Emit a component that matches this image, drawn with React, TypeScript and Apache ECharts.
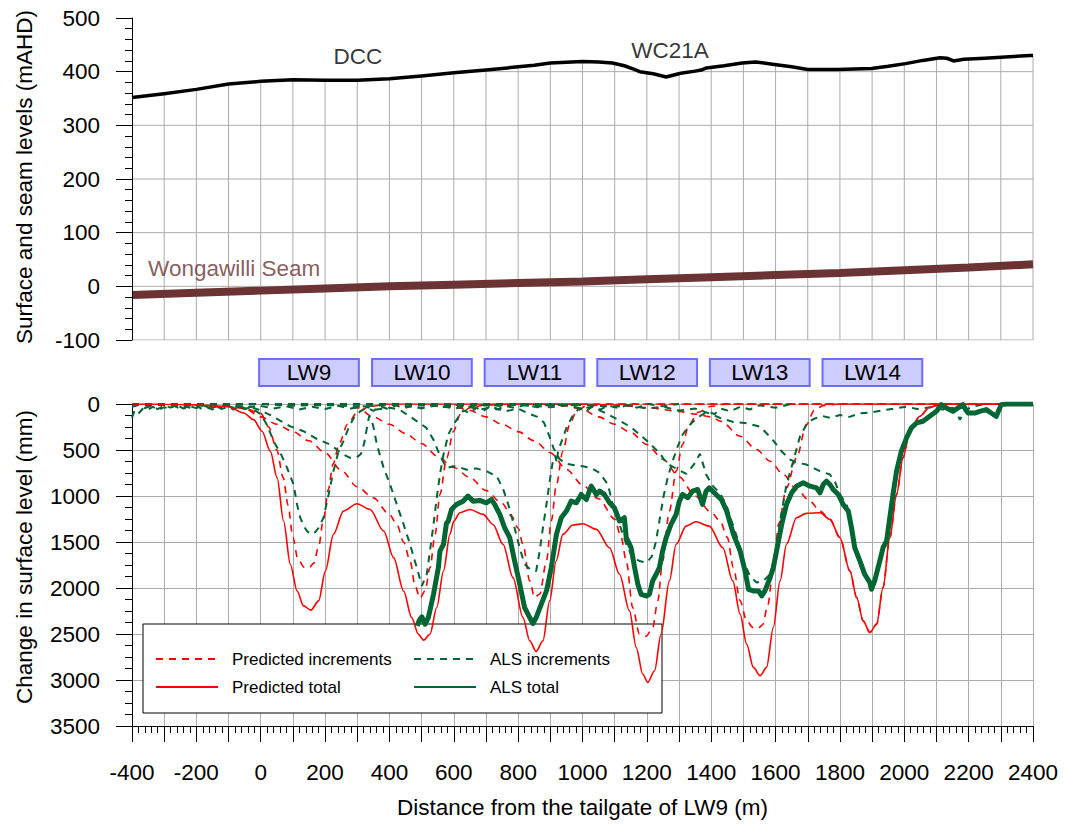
import React, { useEffect, useRef } from 'react';
import * as echarts from 'echarts';

const FONT = '"Liberation Sans", Arial, Helvetica, sans-serif';
const FS = 22.5;
const GRID_COLOR = '#ababab';
const RED = '#ff0000';
const GREEN = '#006633';
const BROWN = '#6b3333';

const X_MIN = -400;
const X_MAX = 2400;
const TOP_MIN = -100;
const TOP_MAX = 500;

// ---- Top panel: surface and seam levels (mAHD)
const surfaceLevel = [
  [-400, 352], [-300, 359], [-200, 367], [-100, 377], [0, 382], [100, 385], [200, 384], [300, 384],
  [400, 387], [500, 392], [600, 398], [700, 403], [800, 409], [850, 412], [900, 416], [1000, 419],
  [1050, 418], [1093, 416], [1130, 411], [1157, 405], [1178, 400], [1220, 396], [1260, 390],
  [1305, 397], [1350, 401], [1369, 403], [1385, 407], [1440, 411], [1496, 416], [1538, 418],
  [1602, 413], [1650, 409], [1700, 404], [1792, 404], [1898, 406], [1950, 410], [2004, 415],
  [2058, 421], [2111, 426], [2132, 425], [2153, 420], [2185, 423], [2250, 425], [2301, 427],
  [2391, 430], [2400, 430],
];
const seamLevel = [
  [-400, -16], [-200, -12], [0, -8], [200, -4], [400, 0], [600, 3], [800, 6], [1000, 9],
  [1200, 13], [1400, 17], [1600, 21], [1800, 25], [2000, 30], [2200, 35], [2400, 41],
];
const surfaceLabels = [[302, 429, 'DCC'], [1272, 440, 'WC21A']];
const seamLabels = [[-350, 34, 'Wongawilli Seam']];

// ---- Longwall panels
const panelNames = ['LW9', 'LW10', 'LW11', 'LW12', 'LW13', 'LW14'];
const panelExtents = [[-5, 305], [346, 656], [696, 1006], [1046, 1356], [1396, 1706], [1746, 2056]];

// ---- Bottom panel: change in surface level (mm)
const predInc9 = [
  [-400, 0], [-300, 0], [-200, 5], [-100, 20], [-50, 50], [0, 100], [25, 250], [50, 500], [70, 800],
  [85, 1100], [100, 1450], [115, 1680], [135, 1775], [150, 1780], [165, 1730], [180, 1550], [195, 1250],
  [210, 930], [225, 650], [245, 420], [270, 220], [300, 90], [340, 25], [400, 0], [2400, 0],
];
const predInc10 = [
  [-400, 0], [-200, 0], [-100, 20], [-50, 50], [0, 140], [50, 220], [100, 300], [150, 400], [200, 530],
  [250, 720], [300, 900], [350, 1020], [400, 1200], [423, 1309], [444, 1500], [464, 1700], [480, 1980],
  [495, 2111], [511, 2030], [526, 1780], [542, 1417], [557, 983], [578, 586], [599, 296], [620, 116],
  [650, 40], [700, 10], [800, 0], [2400, 0],
];
const predInc11 = [
  [-400, 0], [200, 0], [250, 10], [300, 40], [350, 140], [400, 220], [450, 320], [500, 430], [550, 570],
  [600, 690], [650, 800], [700, 940], [750, 1080], [780, 1220], [800, 1350], [815, 1525], [836, 1923],
  [851, 2104], [867, 2068], [888, 1706], [903, 1272], [919, 875], [939, 513], [960, 224], [981, 80],
  [1012, 20], [1100, 0], [2400, 0],
];
const predInc12 = [
  [-400, 0], [400, 0], [500, 10], [600, 30], [650, 70], [700, 140], [750, 220], [800, 300], [850, 400],
  [900, 530], [950, 710], [1000, 880], [1050, 1030], [1100, 1250], [1120, 1450], [1136, 1706],
  [1156, 2212], [1177, 2500], [1198, 2525], [1218, 2430], [1234, 2140], [1249, 1706], [1270, 1164],
  [1291, 730], [1311, 440], [1330, 230], [1360, 90], [1400, 25], [1450, 0], [2400, 0],
];
const predInc13 = [
  [-400, 0], [800, 0], [900, 10], [950, 20], [1000, 60], [1050, 140], [1100, 220], [1150, 310],
  [1200, 440], [1250, 600], [1300, 790], [1350, 1000], [1400, 1180], [1428, 1272], [1450, 1450],
  [1469, 1779], [1490, 2140], [1510, 2357], [1530, 2430], [1545, 2440], [1560, 2400], [1575, 2200],
  [1593, 1779], [1610, 1300], [1634, 911], [1665, 586], [1696, 224], [1720, 70], [1750, 15], [1800, 0],
  [2400, 0],
];
const predInc14 = [
  [-400, 0], [1000, 0], [1100, 10], [1200, 40], [1300, 80], [1350, 110], [1400, 140], [1430, 188],
  [1490, 351], [1541, 495], [1583, 622], [1624, 766], [1665, 929], [1707, 1056], [1738, 1164],
  [1769, 1254], [1800, 1453], [1831, 1815], [1852, 2104], [1872, 2357], [1893, 2483], [1914, 2393],
  [1934, 1995], [1955, 1453], [1976, 983], [1996, 586], [2017, 296], [2048, 134], [2079, 36],
  [2110, 7], [2150, 0], [2400, 0],
];
const predTotal = [
  [-400, 0], [-300, 2], [-200, 10], [-150, 18], [-100, 30], [-53, 98], [-22, 170], [4, 296], [30, 513],
  [51, 803], [71, 1272], [92, 1742], [113, 2032], [133, 2194], [156, 2241], [180, 2140], [201, 1815],
  [226, 1417], [257, 1164], [299, 1085], [340, 1146], [382, 1381], [413, 1670], [444, 2032],
  [469, 2321], [490, 2502], [506, 2567], [526, 2502], [547, 2212], [568, 1815], [588, 1417],
  [600, 1272], [619, 1182], [650, 1146], [691, 1200], [722, 1309], [753, 1525], [784, 1887],
  [815, 2321], [836, 2574], [856, 2690], [877, 2574], [898, 2140], [918, 1706], [939, 1417],
  [970, 1316], [1001, 1301], [1043, 1363], [1084, 1562], [1115, 1851], [1146, 2249], [1167, 2646],
  [1187, 2935], [1203, 3026], [1224, 2899], [1244, 2502], [1270, 1923], [1291, 1525], [1322, 1327],
  [1353, 1280], [1394, 1327], [1436, 1562], [1467, 1923], [1490, 2285], [1510, 2610], [1531, 2863],
  [1552, 2953], [1572, 2863], [1593, 2429], [1614, 1923], [1634, 1525], [1665, 1236], [1696, 1189],
  [1738, 1182], [1769, 1254], [1800, 1453], [1831, 1815], [1852, 2104], [1872, 2357], [1893, 2483],
  [1914, 2393], [1934, 1995], [1955, 1453], [1976, 983], [1996, 586], [2017, 296], [2048, 134],
  [2079, 36], [2110, 7], [2150, 0], [2400, 0],
];

const alsInc9 = [
  [-400, 150], [-392, 70], [-380, 105], [-365, 45], [-350, 60], [-335, 30], [-318, 65], [-300, 35],
  [-285, 50], [-268, 20], [-250, 55], [-232, 30], [-215, 45], [-200, 15], [-185, 50], [-168, 35],
  [-150, 60], [-135, 25], [-118, 50], [-100, 30], [-85, 60], [-68, 25], [-50, 55], [-35, 40], [-18, 70],
  [0, 110], [20, 230], [40, 405], [61, 531], [82, 694], [102, 875], [113, 1092], [123, 1236],
  [133, 1327], [146, 1390], [159, 1417], [170, 1390], [180, 1345], [195, 1236], [211, 983], [226, 730],
  [242, 513], [257, 405], [273, 260], [289, 152], [309, 80], [330, 40], [350, 75], [372, 25], [395, 55],
  [420, 15], [445, 45], [470, 20], [500, 50], [530, 10], [560, 35], [600, 10], [650, 30], [700, 5],
  [760, 25], [820, 0], [900, 15], [1000, 0],
];
const alsInc10 = [
  [-400, 30], [-380, 10], [-360, 45], [-340, 20], [-320, 55], [-300, 15], [-280, 40], [-260, 10],
  [-240, 50], [-220, 25], [-200, 45], [-180, 15], [-160, 40], [-140, 20], [-120, 55], [-100, 25],
  [-80, 45], [-60, 30], [-40, 60], [-20, 45], [0, 70], [30, 120], [60, 180], [92, 243], [133, 296],
  [174, 380], [216, 441], [257, 550], [278, 585], [299, 580], [312, 540], [322, 420], [330, 260],
  [337, 130], [345, 180], [351, 260], [361, 441], [382, 694], [402, 875], [423, 1092], [444, 1309],
  [464, 1525], [485, 1779], [501, 1977], [516, 1851], [526, 1598], [537, 1309], [547, 1019],
  [557, 766], [568, 549], [583, 332], [599, 224], [615, 140], [630, 70], [650, 100], [670, 40],
  [690, 80], [710, 30], [735, 60], [760, 20], [790, 45], [820, 10], [860, 35], [900, 0], [950, 20],
  [1000, 0],
];
const alsInc11 = [
  [-400, 0], [-350, 20], [-300, 5], [-250, 30], [-200, 10], [-150, 35], [-100, 15], [-50, 40], [0, 20],
  [40, 50], [80, 25], [120, 60], [160, 30], [200, 55], [240, 20], [280, 50], [320, 25], [360, 60],
  [402, 40], [433, 65], [464, 137], [495, 209], [515, 260], [537, 390], [558, 570], [578, 696],
  [598, 676], [620, 690], [640, 714], [670, 700], [703, 732], [734, 787], [754, 931], [770, 1100],
  [785, 1292], [806, 1580], [820, 1740], [837, 1797], [846, 1815], [856, 1815], [867, 1598],
  [877, 1345], [888, 1092], [898, 839], [908, 622], [915, 560], [920, 640], [924, 513], [939, 369],
  [950, 260], [971, 116], [991, 43], [1010, 80], [1030, 30], [1055, 60], [1080, 15], [1110, 45],
  [1140, 10], [1170, 40], [1200, 0], [1250, 25], [1300, 0],
];
const alsInc12 = [
  [-400, 0], [-300, 10], [-200, 0], [-100, 15], [0, 0], [100, 20], [200, 5], [300, 30], [400, 10],
  [500, 40], [550, 15], [600, 50], [640, 25], [680, 60], [720, 35], [760, 80], [800, 50], [830, 100],
  [860, 140], [880, 200], [895, 330], [910, 480], [929, 600], [950, 650], [975, 665], [1001, 676],
  [1030, 700], [1053, 748], [1079, 875], [1094, 1092], [1115, 1309], [1136, 1525], [1156, 1670],
  [1177, 1706], [1199, 1725], [1215, 1660], [1228, 1500], [1240, 1250], [1252, 1000], [1265, 800],
  [1280, 620], [1295, 470], [1310, 340], [1330, 240], [1350, 170], [1370, 120], [1390, 80],
  [1410, 110], [1430, 50], [1460, 80], [1490, 30], [1520, 60], [1550, 15], [1600, 40], [1650, 0],
];
const alsInc13 = [
  [-400, 0], [-200, 10], [0, 0], [200, 15], [400, 0], [600, 20], [800, 10], [900, 35], [950, 15],
  [1000, 50], [1030, 30], [1060, 80], [1100, 150], [1150, 250], [1200, 400], [1240, 534], [1261, 642],
  [1290, 700], [1323, 760], [1350, 640], [1365, 540], [1384, 765], [1406, 895], [1427, 967],
  [1448, 1111], [1479, 1436], [1500, 1700], [1520, 1869], [1541, 1941], [1562, 1923], [1583, 1850],
  [1603, 1600], [1614, 1272], [1634, 875], [1655, 622], [1676, 350], [1700, 200], [1720, 160],
  [1745, 130], [1770, 150], [1800, 120], [1830, 140], [1862, 101], [1900, 90], [1950, 60], [2007, 29],
  [2040, 55], [2080, 35], [2120, 60], [2150, 40], [2165, 110], [2173, 173], [2185, 80], [2210, 30],
  [2250, 0],
];
const alsInc14 = [
  [-400, 0], [0, 0], [400, 0], [800, 0], [1000, 10], [1100, 30], [1150, 15], [1200, 50], [1250, 30],
  [1300, 70], [1350, 50], [1400, 110], [1428, 152], [1469, 195], [1510, 210], [1552, 246], [1572, 318],
  [1593, 398], [1620, 520], [1645, 604], [1670, 640], [1696, 658], [1720, 700], [1738, 730],
  [1769, 766], [1785, 850], [1800, 983], [1821, 1092], [1836, 1345], [1846, 1562], [1862, 1706],
  [1877, 1851], [1893, 1941], [1898, 2014], [1908, 1923], [1924, 1706], [1934, 1562], [1945, 1489],
  [1955, 1236], [1965, 983], [1976, 730], [1991, 513], [2007, 369], [2022, 260], [2038, 206],
  [2058, 188], [2079, 134], [2100, 80], [2115, 7], [2131, 43], [2151, 80], [2167, 43], [2182, 7],
  [2198, 98], [2219, 98], [2234, 80], [2255, 61], [2270, 98], [2286, 134], [2301, 7], [2317, 0],
];
const alsTotal = [
  [486, 2411], [493, 2350], [501, 2314], [511, 2393], [521, 2321], [537, 2068], [552, 1779],
  [557, 1600], [568, 1525], [577, 1300], [583, 1272], [593, 1146], [608, 1092], [629, 1056],
  [644, 1001], [660, 1056], [681, 1048], [701, 1074], [717, 1038], [727, 1092], [743, 1200],
  [758, 1345], [774, 1453], [789, 1706], [805, 1959], [820, 2212], [836, 2321], [846, 2386],
  [856, 2321], [872, 2176], [888, 2032], [903, 1779], [919, 1417], [934, 1236], [950, 1164],
  [965, 1056], [981, 1074], [996, 983], [1012, 1038], [1027, 893], [1043, 983], [1053, 947],
  [1068, 983], [1084, 1074], [1099, 1128], [1115, 1272], [1130, 1236], [1136, 1453], [1151, 1562],
  [1162, 1779], [1172, 1959], [1182, 2068], [1198, 2086], [1208, 2068], [1218, 1923], [1229, 1851],
  [1239, 1779], [1249, 1598], [1260, 1453], [1275, 1309], [1291, 1200], [1301, 1056], [1311, 983],
  [1327, 1019], [1342, 947], [1358, 929], [1373, 1092], [1384, 947], [1394, 911], [1415, 983],
  [1432, 1040], [1448, 1164], [1469, 1417], [1490, 1598], [1505, 1815], [1516, 2014], [1531, 2032],
  [1547, 2032], [1557, 2086], [1567, 2032], [1583, 1887], [1593, 1779], [1609, 1489], [1619, 1309],
  [1634, 1092], [1650, 965], [1665, 893], [1686, 857], [1707, 893], [1727, 911], [1738, 965],
  [1748, 875], [1758, 839], [1769, 875], [1779, 929], [1795, 983], [1810, 1092], [1826, 1164],
  [1836, 1345], [1846, 1562], [1862, 1706], [1877, 1851], [1893, 1941], [1898, 2014], [1908, 1923],
  [1924, 1706], [1934, 1562], [1945, 1489], [1955, 1236], [1965, 983], [1976, 730], [1991, 513],
  [2007, 369], [2022, 260], [2038, 206], [2058, 188], [2079, 134], [2100, 80], [2115, 7], [2131, 43],
  [2151, 80], [2167, 43], [2182, 7], [2198, 98], [2219, 98], [2234, 80], [2255, 61], [2270, 98],
  [2286, 134], [2301, 7], [2317, 0], [2400, 0],
];

const predIncrements = [predInc9, predInc10, predInc11, predInc12, predInc13, predInc14];
const alsIncrements = [alsInc9, alsInc10, alsInc11, alsInc12, alsInc13, alsInc14];

// surface level at x, by linear interpolation of the surface profile
function surfaceAt(x: number): number {
  for (let i = 0; i < surfaceLevel.length - 1; i++) {
    const [x0, v0] = surfaceLevel[i];
    const [x1, v1] = surfaceLevel[i + 1];
    if (x >= x0 && x <= x1) return v0 + ((x - x0) / (x1 - x0)) * (v1 - v0);
  }
  return surfaceLevel[surfaceLevel.length - 1][1];
}

// top-panel grid: vertical lines stop at the ground surface, horizontal lines only where they are below it
function topGridPath(): any[] {
  const pts: any[] = [];
  for (let x = X_MIN + 100; x <= X_MAX; x += 100) {
    pts.push([x, TOP_MIN], [x, surfaceAt(x)], [x, null]);
  }
  for (let y = TOP_MIN; y < TOP_MAX; y += 100) {
    let start: number | null = surfaceLevel[0][1] >= y ? X_MIN : null;
    for (let i = 0; i < surfaceLevel.length - 1; i++) {
      const [x0, v0] = surfaceLevel[i];
      const [x1, v1] = surfaceLevel[i + 1];
      if (v0 < y && v1 >= y) start = x0 + ((y - v0) / (v1 - v0)) * (x1 - x0);
      if (v0 >= y && v1 < y && start !== null) {
        const end = x0 + ((y - v0) / (v1 - v0)) * (x1 - x0);
        pts.push([start, y], [end, y], [end, null]);
        start = null;
      }
    }
    if (start !== null) pts.push([start, y], [X_MAX, y], [X_MAX, null]);
  }
  return pts;
}

function buildOption(): any {
  const black = { color: '#000', width: 1 };
  const gridLine = { show: true, lineStyle: { color: GRID_COLOR, width: 1 } };
  const tickLabel = { fontSize: FS, color: '#000', fontFamily: FONT };
  const numFmt = (v: number) => String(v);

  const series: any[] = [];

  // top panel (grid 0)
  series.push({
    type: 'line', xAxisIndex: 0, yAxisIndex: 0, data: topGridPath(), symbol: 'none', silent: true,
    connectNulls: false, z: 1, lineStyle: { color: GRID_COLOR, width: 1 },
  });
  series.push({
    type: 'line', xAxisIndex: 0, yAxisIndex: 0, data: seamLevel, symbol: 'none', silent: true,
    z: 3, lineStyle: { color: BROWN, width: 8, cap: 'butt' },
  });
  series.push({
    type: 'line', xAxisIndex: 0, yAxisIndex: 0, data: surfaceLevel, symbol: 'none', silent: true,
    z: 3, lineStyle: { color: '#000', width: 3.5, join: 'round' },
  });
  series.push({
    type: 'scatter', xAxisIndex: 0, yAxisIndex: 0, data: surfaceLabels, symbolSize: 1, silent: true,
    z: 4, itemStyle: { color: 'rgba(0,0,0,0)' },
    label: { show: true, position: 'inside', formatter: (p: any) => p.data[2], fontSize: FS, color: '#000', fontFamily: FONT },
  });
  series.push({
    type: 'scatter', xAxisIndex: 0, yAxisIndex: 0, data: seamLabels, symbolSize: 1, silent: true,
    z: 4, itemStyle: { color: 'rgba(0,0,0,0)' },
    label: { show: true, position: 'inside', align: 'left', formatter: (p: any) => p.data[2], fontSize: FS, color: BROWN, fontFamily: FONT },
  });

  // bottom panel (grid 1)
  predIncrements.forEach((d) => series.push({
    name: 'Predicted increments', type: 'line', xAxisIndex: 1, yAxisIndex: 1, data: d, symbol: 'none',
    silent: true, smooth: 0.3, smoothMonotone: 'x', itemStyle: { color: RED },
    lineStyle: { color: RED, width: 1.6, type: [7, 6] },
  }));
  alsIncrements.forEach((d) => series.push({
    name: 'ALS increments', type: 'line', xAxisIndex: 1, yAxisIndex: 1, data: d, symbol: 'none',
    silent: true, itemStyle: { color: GREEN }, lineStyle: { color: GREEN, width: 2, type: [7, 6] },
  }));
  series.push({
    name: 'Predicted total', type: 'line', xAxisIndex: 1, yAxisIndex: 1, data: predTotal, symbol: 'none',
    silent: true, smooth: 0.3, smoothMonotone: 'x', itemStyle: { color: RED }, lineStyle: { color: RED, width: 1.6 },
  });
  series.push({
    name: 'ALS total', type: 'line', xAxisIndex: 1, yAxisIndex: 1, data: alsTotal, symbol: 'none',
    silent: true, itemStyle: { color: GREEN }, lineStyle: { color: GREEN, width: 5, join: 'round' },
  });

  // longwall boxes (grid 2)
  series.push({
    type: 'custom', xAxisIndex: 2, yAxisIndex: 2, data: panelExtents, silent: true, z: 5,
    encode: { x: [0, 1] },
    renderItem: (params: any, api: any) => {
      const a = api.coord([api.value(0), 0]);
      const b = api.coord([api.value(1), 1]);
      return {
        type: 'rect',
        shape: { x: a[0], y: b[1], width: b[0] - a[0], height: a[1] - b[1] },
        style: { fill: '#ccccff', stroke: '#6c6cff', lineWidth: 2 },
        textContent: { style: { text: panelNames[params.dataIndex], fontSize: FS, fontFamily: FONT, fill: '#000' } },
        textConfig: { position: 'inside' },
      };
    },
  });

  const legendBase = {
    orient: 'vertical', top: 650, itemWidth: 62, itemHeight: 14, itemGap: 10, padding: 0,
    selectedMode: false,
    itemStyle: { opacity: 0, borderWidth: 0 },
    textStyle: { fontSize: 17, lineHeight: 18, color: '#000', fontFamily: FONT, padding: [0, 0, 0, 9] },
  };

  return {
    animation: false,
    textStyle: { fontFamily: FONT },
    grid: [
      { left: 132, width: 901, top: 18, height: 322 },
      { left: 132, width: 901, top: 404, height: 322 },
      { left: 132, width: 901, top: 359, height: 27 },
    ],
    xAxis: [
      { gridIndex: 0, type: 'value', min: X_MIN, max: X_MAX, show: false },
      {
        gridIndex: 1, type: 'value', min: X_MIN, max: X_MAX, interval: 100, z: 0,
        axisLine: { show: true, onZero: false, lineStyle: black },
        axisTick: { show: true, length: 16, lineStyle: black },
        minorTick: { show: true, splitNumber: 5, length: 7, lineStyle: black },
        axisLabel: { ...tickLabel, margin: 35, formatter: (v: number) => (v % 200 === 0 ? String(v) : '') },
        splitLine: gridLine,
      },
      { gridIndex: 2, type: 'value', min: X_MIN, max: X_MAX, show: false },
    ],
    yAxis: [
      {
        gridIndex: 0, type: 'value', min: TOP_MIN, max: TOP_MAX, interval: 100, z: 5,
        axisLine: { show: true, onZero: false, lineStyle: black },
        axisTick: { show: true, length: 16, lineStyle: black },
        minorTick: { show: true, splitNumber: 5, length: 7, lineStyle: black },
        axisLabel: { ...tickLabel, margin: 32, formatter: numFmt },
        splitLine: { show: false },
      },
      {
        gridIndex: 1, type: 'value', min: 0, max: 3500, interval: 500, inverse: true, z: 0,
        axisLine: { show: true, onZero: false, lineStyle: black },
        axisTick: { show: true, length: 16, lineStyle: black },
        minorTick: { show: true, splitNumber: 4, length: 7, lineStyle: black },
        axisLabel: { ...tickLabel, margin: 32, formatter: numFmt },
        splitLine: gridLine,
      },
      { gridIndex: 2, type: 'value', min: 0, max: 1, show: false },
    ],
    legend: [
      { ...legendBase, left: 155, data: ['Predicted increments', 'Predicted total'] },
      { ...legendBase, left: 413, data: ['ALS increments', 'ALS total'] },
    ],
    graphic: [
      {
        type: 'rect', z: 1, silent: true,
        shape: { x: 143, y: 624, width: 519, height: 89 },
        style: { fill: '#ffffff', stroke: '#000', lineWidth: 1 },
      },
      {
        type: 'text', x: 582.5, y: 807, silent: true,
        style: { text: 'Distance from the tailgate of LW9 (m)', fontSize: FS, fontFamily: FONT, fill: '#000', align: 'center', verticalAlign: 'middle' },
      },
      {
        type: 'text', x: 24, y: 177, rotation: Math.PI / 2, silent: true,
        style: { text: 'Surface and seam levels (mAHD)', fontSize: FS, fontFamily: FONT, fill: '#000', align: 'center', verticalAlign: 'middle' },
      },
      {
        type: 'text', x: 24, y: 557, rotation: Math.PI / 2, silent: true,
        style: { text: 'Change in surface level (mm)', fontSize: FS, fontFamily: FONT, fill: '#000', align: 'center', verticalAlign: 'middle' },
      },
    ],
    series,
  };
}

export default function App() {
  const ref = useRef<HTMLDivElement>(null);
  useEffect(() => {
    if (!ref.current) return;
    const chart = echarts.init(ref.current, null, { renderer: 'svg' });
    chart.setOption(buildOption());
    return () => chart.dispose();
  }, []);
  return (
    <div
      ref={ref}
      style={{ position: 'fixed', left: 0, top: 0, width: 1065, height: 825, background: '#ffffff' }}
    />
  );
}
